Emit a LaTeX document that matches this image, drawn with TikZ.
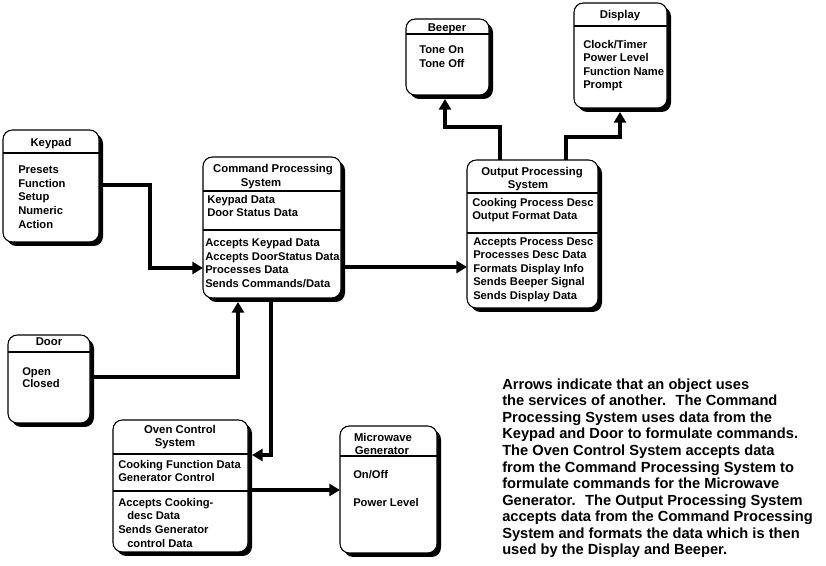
\documentclass[tikz,border=0pt]{standalone}
\usepackage{fontspec}
\setmainfont{Liberation Sans}
\usetikzlibrary{arrows.meta,shadows,calc}
\begin{document}
\begin{tikzpicture}[x=0.75pt,y=-0.75pt,
  objbox/.style n args={4}{draw, fill=white, line width=0.8pt, rounded corners=7pt,
    inner sep=0pt, outer sep=0pt,
    minimum width={(#3-#1)*0.75pt}, minimum height={(#4-#2)*0.75pt},
    at={({(#1+#3)/2},{(#2+#4)/2})},
    drop shadow={shadow xshift=3pt, shadow yshift=-3pt, fill=black, opacity=1}},
  divline/.style={line width=0.8pt},
  ttl/.style={font=\fontsize{8.5pt}{10pt}\selectfont\bfseries, inner sep=0pt,
    text height=6.1pt, text depth=0pt, anchor=center},
  itm/.style={font=\fontsize{8.4pt}{10pt}\selectfont\bfseries, inner sep=0pt,
    text height=6pt, text depth=0pt, anchor=west},
  arr/.style={line width=2.3pt, -{Triangle[length=8pt,width=9pt]}},
  para/.style={font=\fontsize{11pt}{12.4pt}\selectfont\bfseries, inner sep=0pt,
    align=left, anchor=north west}
]
\useasboundingbox[fill=white] (0,0) rectangle (826,566);

% ---------- Keypad ----------
\node[objbox={3}{130}{99}{242}] (keypad) {};
\draw[divline] (keypad.west |- 0,153) -- (keypad.east |- 0,153);
\node[ttl] (keypadT) at (51,142) {Keypad};
\foreach \t/\y [count=\i] in {Presets/170,Function/184,Setup/197,Numeric/211,Action/225}
  \node[itm] (kp\i) at (18,\y) {\t};

% ---------- Door ----------
\node[objbox={8}{335}{90}{423}] (door) {};
\draw[divline] (door.west |- 0,352) -- (door.east |- 0,352);
\node[ttl] (doorT) at (49,341) {Door};
\foreach \t/\y [count=\i] in {Open/372,Closed/384}
  \node[itm] (dr\i) at (22,\y) {\t};

% ---------- Command Processing System ----------
\node[objbox={203}{157}{341}{298}] (cps) {};
\draw[divline] (cps.west |- 0,191) -- (cps.east |- 0,191);
\draw[divline] (cps.west |- 0,230) -- (cps.east |- 0,230);
\node[ttl] (cpsT1) at (273,168) {Command Processing};
\node[ttl] (cpsT2) at (261,182) {System};
\foreach \t/\y [count=\i] in {Keypad Data/200,Door Status Data/213}
  \node[itm] (cpa\i) at (207,\y) {\t};
\foreach \t/\y [count=\i] in {Accepts Keypad Data/243,Accepts DoorStatus Data/257,Processes Data/270,{Sends Commands/Data}/284}
  \node[itm] (cpo\i) at (205,\y) {\t};

% ---------- Output Processing System ----------
\node[objbox={467}{160}{598}{308}] (ops) {};
\draw[divline] (ops.west |- 0,193) -- (ops.east |- 0,193);
\draw[divline] (ops.west |- 0,233) -- (ops.east |- 0,233);
\node[ttl] (opsT1) at (532,171) {Output Processing};
\node[ttl] (opsT2) at (528,184) {System};
\foreach \t/\y [count=\i] in {Cooking Process Desc/203,Output Format Data/216}
  \node[itm] (opa\i) at (472,\y) {\t};
\foreach \t/\y [count=\i] in {Accepts Process Desc/242,Processes Desc Data/255,Formats Display Info/269,Sends Beeper Signal/282,Sends Display Data/296}
  \node[itm] (opo\i) at (473,\y) {\t};

% ---------- Beeper ----------
\node[objbox={406}{19}{489}{95}] (beeper) {};
\draw[divline] (beeper.west |- 0,34) -- (beeper.east |- 0,34);
\node[ttl] (beeperT) at (447,27) {Beeper};
\foreach \t/\y [count=\i] in {Tone On/50,Tone Off/64}
  \node[itm] (bp\i) at (419,\y) {\t};

% ---------- Display ----------
\node[objbox={574}{3}{667}{108}] (display) {};
\draw[divline] (display.west |- 0,26) -- (display.east |- 0,26);
\node[ttl] (displayT) at (620,14) {Display};
\foreach \t/\y [count=\i] in {{Clock/Timer}/45,Power Level/58,Function Name/72,Prompt/85}
  \node[itm] (dp\i) at (583,\y) {\t};

% ---------- Oven Control System ----------
\node[objbox={113}{420}{248}{552}] (oven) {};
\draw[divline] (oven.west |- 0,454) -- (oven.east |- 0,454);
\draw[divline] (oven.west |- 0,491) -- (oven.east |- 0,491);
\node[ttl] (ovenT1) at (180,429) {Oven Control};
\node[ttl] (ovenT2) at (175,442) {System};
\foreach \t/\x/\y [count=\i] in {Cooking Function Data/118/465,Generator Control/118/478,Accepts Cooking-/118/503,desc Data/127/516,Sends Generator/118/530,control Data/127/544}
  \node[itm] (ov\i) at (\x,\y) {\t};

% ---------- Microwave Generator ----------
\node[objbox={340}{426}{437}{553}] (micro) {};
\draw[divline] (micro.west |- 0,456) -- (micro.east |- 0,456);
\node[ttl] (microT1) at (383,437) {Microwave};
\node[ttl] (microT2) at (382,450) {Generator};
\foreach \t/\y [count=\i] in {{On/Off}/475,Power Level/503}
  \node[itm] (mw\i) at (353,\y) {\t};

% ---------- Connectors ----------
\draw[arr] (keypad.east |- 0,185) -| (150,268) -- (cps.west |- 0,268);
\draw[arr] (door.east |- 0,377) -| ($(cps.south -| 238,0)+(0,4)$);
\draw[arr] (cps.east |- 0,267) -- (ops.west |- 0,267);
\draw[arr] (cps.south -| 271,0) |- ($(oven.east |- 0,455)+(4,0)$);
\draw[arr] (oven.east |- 0,490) -- (micro.west |- 0,490);
\draw[arr] (ops.north -| 500,0) |- (445,127) -- ($(beeper.south -| 445,0)+(0,4)$);
\draw[arr] (ops.north -| 566,0) |- (620,137) -- ($(display.south -| 620,0)+(0,4)$);

% ---------- Explanation ----------
\node[para] (note) at (502,378.5) {Arrows indicate that an object uses\\
the services of another.~ The Command\\
Processing System uses data from the\\
Keypad and Door to formulate commands.\\
The Oven Control System accepts data\\
from the Command Processing System to\\
formulate commands for the Microwave\\
Generator.~ The Output Processing System\\
accepts data from the Command Processing\\
System and formats the data which is then\\
used by the Display and Beeper.};
\end{tikzpicture}
\end{document}
